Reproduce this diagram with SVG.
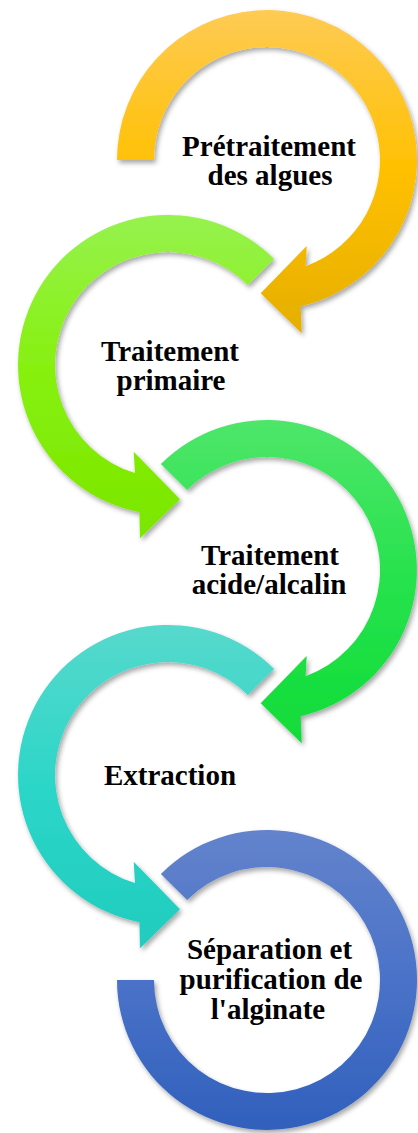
<svg xmlns="http://www.w3.org/2000/svg" width="418" height="1133" viewBox="0 0 418 1133">
<style>
.lbl{font-family:"Liberation Serif","Times New Roman",serif;font-weight:bold;font-size:29px;fill:#000;text-anchor:middle}
.arr{filter:url(#sh)}
</style>
<defs>
<filter id="sh" x="-20%" y="-20%" width="140%" height="140%">
<feDropShadow dx="2" dy="3" stdDeviation="2.5" flood-color="#000" flood-opacity="0.35"/>
</filter>
<linearGradient id="gY" x1="0" y1="0" x2="0" y2="1">
<stop offset="0" stop-color="#FECB54"/><stop offset="0.5" stop-color="#FFC000"/><stop offset="1" stop-color="#E5AF00"/>
</linearGradient>
<linearGradient id="gG1" x1="0" y1="0" x2="0" y2="1">
<stop offset="0" stop-color="#96F24E"/><stop offset="0.5" stop-color="#86F00C"/><stop offset="1" stop-color="#7BE600"/>
</linearGradient>
<linearGradient id="gG2" x1="0" y1="0" x2="0" y2="1">
<stop offset="0" stop-color="#4EE66A"/><stop offset="0.5" stop-color="#26E24C"/><stop offset="1" stop-color="#10DC38"/>
</linearGradient>
<linearGradient id="gT" x1="0" y1="0" x2="0" y2="1">
<stop offset="0" stop-color="#56D9CC"/><stop offset="0.5" stop-color="#2CD6C8"/><stop offset="1" stop-color="#20CCBE"/>
</linearGradient>
<linearGradient id="gB" x1="0" y1="0" x2="0" y2="1">
<stop offset="0" stop-color="#6383CC"/><stop offset="0.5" stop-color="#4A72C8"/><stop offset="1" stop-color="#3060BC"/>
</linearGradient>
</defs>
<rect width="418" height="1133" fill="#fff"/>

<g id="node1">
<path class="arr" fill="url(#gY)" d="M 117 160 A 150 150 0 1 1 300.7 306.2 L 301.7 333.3 L 260.7 293.3 L 306.7 246 L 305.6 266.2 A 113 113 0 1 0 154 160 Z"/>
<text class="lbl" x="269" y="156">Prétraitement</text>
<text class="lbl" x="270" y="185">des algues</text>
</g>

<g id="node2">
<path class="arr" fill="url(#gG1)" d="M 274.1 258.9 A 150 150 0 1 0 139.4 512.2 L 140 538.3 L 180 499.3 L 133.7 451.7 L 135 473.1 A 113 113 0 1 1 247.9 285.1 Z"/>
<text class="lbl" x="170" y="361">Traitement</text>
<text class="lbl" x="171" y="390">primaire</text>
</g>

<g id="node3">
<path class="arr" fill="url(#gG2)" d="M 160.9 463.9 A 150 150 0 1 1 300.7 716.2 L 301.7 743.3 L 260.7 703.3 L 306.7 656 L 305.6 676.2 A 113 113 0 1 0 187.1 490.1 Z"/>
<text class="lbl" x="270" y="565">Traitement</text>
<text class="lbl" x="269" y="594">acide/alcalin</text>
</g>

<g id="node4">
<path class="arr" fill="url(#gT)" d="M 274.1 668.9 A 150 150 0 1 0 139.4 922.2 L 140 948.3 L 180 909.3 L 133.7 861.7 L 135 883.1 A 113 113 0 1 1 247.9 695.1 Z"/>
<text class="lbl" x="170" y="785">Extraction</text>
</g>

<g id="node5">
<path class="arr" fill="url(#gB)" d="M 160.9 873.9 A 150 150 0 1 1 117 980 L 154 980 A 113 113 0 1 0 187.1 900.1 Z"/>
<text class="lbl" x="269.5" y="959">Séparation et</text>
<text class="lbl" x="271" y="989">purification de</text>
<text class="lbl" x="268" y="1019">l'alginate</text>
</g>

<g id="connectors"/>
</svg>
